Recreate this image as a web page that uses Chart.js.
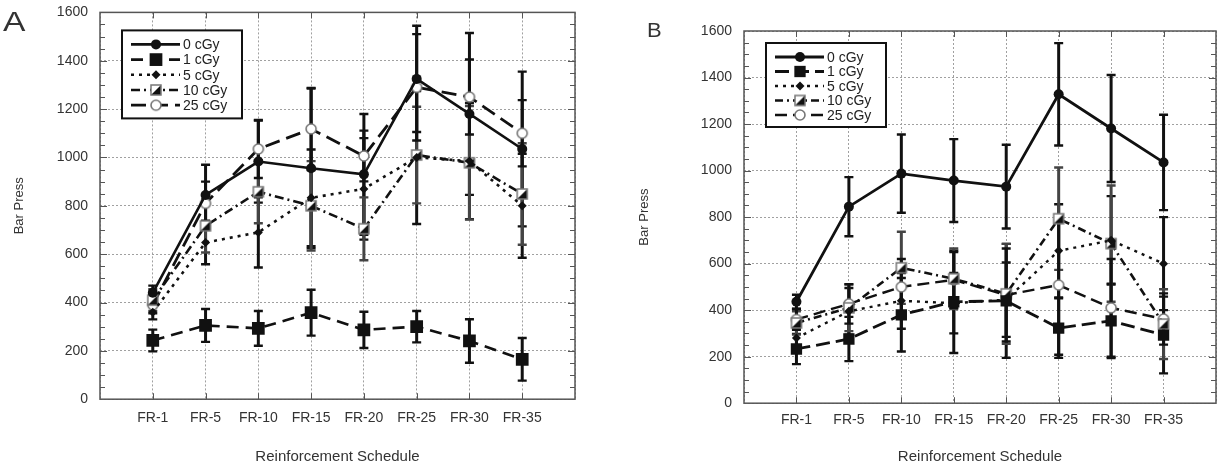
<!DOCTYPE html>
<html>
<head>
<meta charset="utf-8">
<script src="https://cdn.jsdelivr.net/npm/chart.js@4.4.0/dist/chart.umd.min.js"></script>
<style>
  body { margin: 0; background: #fff; width: 1225px; height: 468px; overflow: hidden; position: relative;
         font-family: "Liberation Sans", Arial, sans-serif; }
  .panel { position: absolute; }
  #wrapA { left: 0; top: -8px; width: 612px; height: 476px; }
  #wrapB { left: 612px; top: 0; width: 613px; height: 468px; }
  .tag { position: absolute; color: #333; line-height: 1; transform-origin: left top; }
</style>
</head>
<body>
<div class="panel" id="wrapA"><canvas id="chartA"></canvas></div>
<div class="panel" id="wrapB"><canvas id="chartB"></canvas></div>
<div class="tag" style="left:3px;top:8px;font-size:28px;transform:scaleX(1.2)">A</div>
<div class="tag" style="left:647px;top:20px;font-size:20px;transform:scaleX(1.1)">B</div>

<script>
// categories / tick labels
const schedules = ['FR-1', 'FR-5', 'FR-10', 'FR-15', 'FR-20', 'FR-25', 'FR-30', 'FR-35'];
const doses = ['0 cGy', '1 cGy', '5 cGy', '10 cGy', '25 cGy'];

// Panel A means and error half-widths
const a0 = [440, 845, 983, 955, 930, 1325, 1180, 1035];
const a0Err = [30, 125, 170, 330, 250, 220, 335, 320];
const a1 = [243, 305, 293, 358, 287, 300, 241, 165];
const a1Err = [45, 68, 72, 95, 75, 65, 90, 88];
const a5 = [360, 648, 690, 833, 870, 1000, 985, 800];
const a5Err = [30, 90, 145, 200, 210, 275, 240, 215];
const a10 = [410, 717, 858, 800, 705, 1010, 978, 849];
const a10Err = [45, 110, 130, 185, 130, 200, 235, 210];
const a25 = [390, 810, 1035, 1118, 1006, 1290, 1250, 1100];
const a25Err = [35, 90, 120, 170, 105, 220, 155, 137];

// Panel B means and error half-widths
const b0 = [436, 845, 987, 957, 931, 1328, 1181, 1035];
const b0Err = [30, 127, 168, 178, 180, 220, 230, 205];
const b1 = [233, 276, 380, 436, 440, 323, 354, 293];
const b1Err = [65, 95, 158, 220, 245, 128, 160, 165];
const b5 = [280, 395, 440, 430, 445, 655, 700, 600];
const b5Err = [40, 100, 120, 130, 160, 200, 190, 200];
const b10 = [345, 410, 582, 535, 470, 793, 686, 340];
const b10Err = [50, 100, 155, 130, 215, 220, 250, 150];
const b25 = [360, 427, 500, 530, 465, 508, 410, 362];
const b25Err = [45, 85, 120, 120, 200, 300, 210, 110];

// little marker pictures for the half-filled square and the open circle
function markerImage(kind) {
  const c = document.createElement('canvas');
  c.width = 14; c.height = 14;
  const g = c.getContext('2d');
  if (kind === 'half') {
    g.fillStyle = '#fff'; g.fillRect(2, 2, 10, 10);
    g.fillStyle = '#111';
    g.beginPath(); g.moveTo(12, 2); g.lineTo(12, 12); g.lineTo(2, 12); g.closePath(); g.fill();
    g.strokeStyle = '#777'; g.lineWidth = 1.5; g.strokeRect(2, 2, 10, 10);
  } else {
    g.fillStyle = '#fff'; g.strokeStyle = '#777'; g.lineWidth = 1.6;
    g.beginPath(); g.arc(7, 7, 5, 0, Math.PI * 2); g.fill(); g.stroke();
  }
  return c;
}
const halfImg = markerImage('half');
const ringImg = markerImage('ring');

const looksA = [
  { dash: [], width: 2.6, style: 'circle', radius: 5 },
  { dash: [12, 7], width: 2.6, style: 'rect', radius: 9 },
  { dash: [3, 5], width: 2.6, style: 'rectRot', radius: 4.5 },
  { dash: [9, 4, 2, 4], width: 2.6, style: halfImg, radius: 6 },
  { dash: [15, 7], width: 2.8, style: ringImg, radius: 6 }
];
const looksB = [
  { dash: [], width: 2.8, style: 'circle', radius: 5 },
  { dash: [14, 6], width: 2.8, style: 'rect', radius: 8 },
  { dash: [3, 5], width: 2.4, style: 'rectRot', radius: 4.5 },
  { dash: [8, 4, 2, 4], width: 2.6, style: halfImg, radius: 6 },
  { dash: [12, 6], width: 2.4, style: ringImg, radius: 6 }
];

function drawMarker(ctx, look, x, y) {
  ctx.save();
  ctx.setLineDash([]);
  ctx.fillStyle = '#111';
  if (typeof look.style !== 'string') {
    ctx.drawImage(look.style, x - look.style.width / 2, y - look.style.height / 2);
  } else if (look.style === 'circle') {
    ctx.beginPath(); ctx.arc(x, y, look.radius, 0, Math.PI * 2); ctx.fill();
  } else if (look.style === 'rect') {
    const s = look.radius * Math.SQRT1_2;
    ctx.fillRect(x - s, y - s, 2 * s, 2 * s);
  } else {
    const r = look.radius;
    ctx.beginPath(); ctx.moveTo(x, y - r); ctx.lineTo(x + r, y); ctx.lineTo(x, y + r); ctx.lineTo(x - r, y);
    ctx.closePath(); ctx.fill();
  }
  ctx.restore();
}

// error bars, frame, inner ticks and the boxed legend
function decorations(errs, looks, legend) {
  return {
    id: 'decor',
    beforeDatasetsDraw(chart) {
      const ctx = chart.ctx;
      const xs = chart.scales.x, ys = chart.scales.y;
      ctx.save();
      chart.data.datasets.forEach((ds, i) => {
        ctx.strokeStyle = i === 3 ? '#444' : '#111';
        ds.data.forEach((p, j) => {
          const x = xs.getPixelForValue(p.x);
          const top = ys.getPixelForValue(p.y + errs[i][j]);
          const bot = ys.getPixelForValue(Math.max(0, p.y - errs[i][j]));
          ctx.lineWidth = 3;
          ctx.beginPath(); ctx.moveTo(x, top); ctx.lineTo(x, bot); ctx.stroke();
          ctx.lineWidth = 2.4;
          ctx.beginPath();
          ctx.moveTo(x - 4.5, top); ctx.lineTo(x + 4.5, top);
          ctx.moveTo(x - 4.5, bot); ctx.lineTo(x + 4.5, bot);
          ctx.stroke();
        });
      });
      ctx.restore();
    },
    afterDraw(chart) {
      const ctx = chart.ctx;
      const a = chart.chartArea;
      const xs = chart.scales.x, ys = chart.scales.y;
      ctx.save();
      ctx.strokeStyle = '#555';
      ctx.lineWidth = 1.5;
      ctx.strokeRect(a.left, a.top, a.right - a.left, a.bottom - a.top);
      ctx.lineWidth = 1;
      for (let v = 50; v < 1600; v += 50) {
        const y = Math.round(ys.getPixelForValue(v)) + 0.5;
        const len = v % 200 === 0 ? 7 : 5;
        ctx.beginPath();
        ctx.moveTo(a.left, y); ctx.lineTo(a.left + len, y);
        ctx.moveTo(a.right, y); ctx.lineTo(a.right - len, y);
        ctx.stroke();
      }
      for (let k = 1; k <= schedules.length; k++) {
        const x = Math.round(xs.getPixelForValue(k)) + 0.5;
        ctx.beginPath();
        ctx.moveTo(x, a.bottom); ctx.lineTo(x, a.bottom - 6);
        ctx.moveTo(x, a.top); ctx.lineTo(x, a.top + 6);
        ctx.stroke();
      }
      // legend box
      const bx = a.left + legend.x, by = a.top + legend.y;
      ctx.fillStyle = '#fff';
      ctx.fillRect(bx, by, legend.w, legend.h);
      ctx.strokeStyle = '#111';
      ctx.lineWidth = 2;
      ctx.strokeRect(bx, by, legend.w, legend.h);
      ctx.font = '14px "Liberation Sans", Arial, sans-serif';
      ctx.textBaseline = 'middle';
      chart.data.datasets.forEach((ds, i) => {
        const look = looks[i];
        const y = by + legend.first + i * legend.step;
        ctx.strokeStyle = '#111';
        ctx.lineWidth = look.width;
        ctx.setLineDash(look.dash);
        ctx.beginPath(); ctx.moveTo(bx + 9, y); ctx.lineTo(bx + 58, y); ctx.stroke();
        drawMarker(ctx, look, bx + 34, y);
        ctx.setLineDash([]);
        ctx.fillStyle = '#222';
        ctx.fillText(ds.label, bx + 61, y + 1);
      });
      ctx.restore();
    }
  };
}

function makeChart(id, series, errs, looks, geo) {
  const datasets = series.map((vals, i) => ({
    label: doses[i],
    data: vals.map((v, j) => ({ x: j + 1, y: v })),
    borderColor: '#111',
    backgroundColor: '#111',
    borderWidth: looks[i].width,
    borderDash: looks[i].dash,
    pointStyle: looks[i].style,
    pointRadius: looks[i].radius,
    pointBorderWidth: 0,
    pointBackgroundColor: '#111',
    tension: 0
  }));
  const tickFont = { family: '"Liberation Sans", Arial, sans-serif', size: 14 };
  return new Chart(document.getElementById(id), {
    type: 'line',
    data: { datasets: datasets },
    options: {
      responsive: true,
      maintainAspectRatio: false,
      animation: false,
      layout: { padding: { left: 0, right: geo.right, top: geo.top, bottom: 0 } },
      plugins: { legend: { display: false }, tooltip: { enabled: false } },
      scales: {
        x: {
          type: 'linear', min: 0, max: schedules.length + 1,
          afterBuildTicks: (s) => { s.ticks = schedules.map((_, k) => ({ value: k })).concat([{ value: schedules.length }, { value: schedules.length + 1 }]); },
          ticks: { autoSkip: false, maxRotation: 0, padding: geo.xPad, font: tickFont, color: '#333',
                   callback: (v) => schedules[v - 1] || '' },
          grid: { color: '#a0a0a0', lineWidth: 1, drawTicks: false },
          border: { display: false, dash: [2, 2] },
          title: { display: true, text: 'Reinforcement Schedule', color: '#333',
                   font: { family: '"Liberation Sans", Arial, sans-serif', size: 15 },
                   padding: { top: geo.titlePad, bottom: 2 } }
        },
        y: {
          min: 0, max: 1600,
          afterFit: (s) => { s.width = geo.yWidth; },
          ticks: { stepSize: 200, padding: 12, font: tickFont, color: '#333', callback: (v) => String(v) },
          grid: { color: '#a0a0a0', lineWidth: 1, drawTicks: false },
          border: { display: false, dash: [2, 2] },
          title: { display: true, text: 'Bar Press', color: '#333',
                   font: { family: '"Liberation Sans", Arial, sans-serif', size: 13 },
                   padding: { top: geo.yTitlePad, bottom: geo.yTitlePad } }
        }
      }
    },
    plugins: [decorations(errs, looks, geo.legend)]
  });
}

makeChart('chartA', [a0, a1, a5, a10, a25], [a0Err, a1Err, a5Err, a10Err, a25Err], looksA, {
  right: 37, top: 11, xPad: 11, titlePad: 10, yWidth: 100, yTitlePad: 12,
  legend: { x: 22, y: 18, w: 120, h: 88, first: 14, step: 15.2 }
});
makeChart('chartB', [b0, b1, b5, b10, b25], [b0Err, b1Err, b5Err, b10Err, b25Err], looksB, {
  right: 6, top: 31, xPad: 9, titlePad: 10, yWidth: 132, yTitlePad: 25,
  legend: { x: 22, y: 12, w: 120, h: 84, first: 14, step: 14.5 }
});
</script>
</body>
</html>
